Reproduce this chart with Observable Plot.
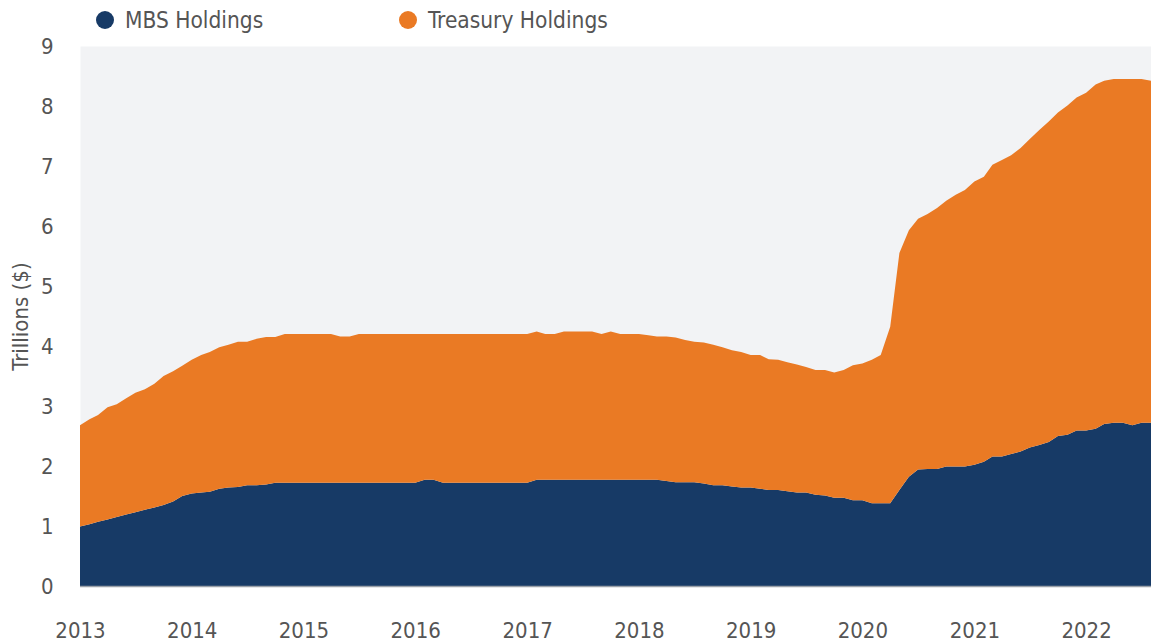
<!DOCTYPE html>
<html>
<head>
<meta charset="utf-8">
<script src="https://cdn.jsdelivr.net/npm/d3@7"></script>
<script src="https://cdn.jsdelivr.net/npm/@observablehq/plot@0.6"></script>
<style>
  body { margin: 0; background: #fff; font-family: "Liberation Sans Narrow", "DejaVu Sans Condensed", "Liberation Sans", sans-serif; }
  #legend { position: relative; height: 36px; width: 1151px; }
  .item { position: absolute; top: 0; height: 40px; display: flex; align-items: center; font-size: 22.5px; color: #555; white-space: nowrap; }
  .dot { width: 18px; height: 18px; border-radius: 50%; margin-right: 11px; }
  #chart svg { display: block; }
</style>
</head>
<body>
<div id="legend"></div>
<div id="chart"></div>
<script>
// Series names and colours
const seriesNames = ["MBS Holdings", "Treasury Holdings"];
const seriesColors = ["#173a66", "#ea7a24"];

// Monthly observations, Jan 2013 – Aug 2022 (trillions of dollars)
const months = d3.utcMonth.range(new Date(Date.UTC(2013, 0, 1)), new Date(Date.UTC(2022, 8, 1)));

const mbs = [
  0.99,1.03,1.07,1.11,1.15,1.19,1.23,1.27,1.31,1.35,
  1.41,1.50,1.54,1.56,1.57,1.62,1.64,1.65,1.68,1.68,
  1.69,1.72,1.72,1.72,1.72,1.72,1.72,1.72,1.72,1.72,
  1.72,1.72,1.72,1.72,1.72,1.72,1.72,1.77,1.77,1.72,
  1.72,1.72,1.72,1.72,1.72,1.72,1.72,1.72,1.72,1.77,
  1.77,1.77,1.77,1.77,1.77,1.77,1.77,1.77,1.77,1.77,
  1.77,1.77,1.77,1.75,1.73,1.73,1.73,1.71,1.68,1.68,
  1.66,1.64,1.64,1.62,1.60,1.60,1.58,1.56,1.56,1.52,
  1.51,1.47,1.47,1.43,1.43,1.38,1.38,1.38,1.60,1.82,
  1.94,1.95,1.95,1.99,1.99,1.99,2.02,2.07,2.16,2.16,
  2.20,2.24,2.31,2.35,2.40,2.50,2.52,2.59,2.59,2.62,
  2.70,2.72,2.72,2.68,2.72,2.72
];

const treasury = [
  1.69,1.75,1.78,1.87,1.88,1.94,1.99,2.01,2.06,2.15,
  2.17,2.17,2.23,2.29,2.33,2.36,2.38,2.42,2.39,2.44,
  2.46,2.43,2.48,2.48,2.48,2.48,2.48,2.48,2.44,2.44,
  2.48,2.48,2.48,2.48,2.48,2.48,2.48,2.43,2.43,2.48,
  2.48,2.48,2.48,2.48,2.48,2.48,2.48,2.48,2.48,2.47,
  2.43,2.43,2.47,2.47,2.47,2.47,2.43,2.47,2.43,2.43,
  2.43,2.41,2.39,2.41,2.41,2.37,2.34,2.35,2.34,2.30,
  2.27,2.26,2.21,2.23,2.18,2.17,2.15,2.13,2.09,2.08,
  2.09,2.09,2.13,2.25,2.28,2.39,2.47,2.94,3.95,4.11,
  4.18,4.25,4.35,4.43,4.53,4.61,4.72,4.75,4.86,4.94,
  4.98,5.06,5.14,5.25,5.34,5.39,5.49,5.55,5.63,5.74,
  5.72,5.73,5.73,5.77,5.73,5.70
];

// Axis ticks
const yearTicks = [2013,2014,2015,2016,2017,2018,2019,2020,2021,2022];
const yTicks = [0,1,2,3,4,5,6,7,8,9];
const yLabel = "Trillions ($)";

// Long-format table for the stacked area
const rows = [];
months.forEach((d, i) => {
  rows.push({date: d, series: seriesNames[0], value: mbs[i]});
  rows.push({date: d, series: seriesNames[1], value: treasury[i]});
});

// Legend
const legend = document.getElementById("legend");
const legendLeft = [96, 399];
seriesNames.forEach((name, i) => {
  const item = document.createElement("div");
  item.className = "item";
  item.style.left = legendLeft[i] + "px";
  const dot = document.createElement("span");
  dot.className = "dot";
  dot.style.background = seriesColors[i];
  const label = document.createElement("span");
  label.textContent = name;
  item.appendChild(dot);
  item.appendChild(label);
  legend.appendChild(item);
});

const chart = Plot.plot({
  width: 1151,
  height: 607,
  marginTop: 10,
  marginBottom: 57,
  marginLeft: 80,
  marginRight: 0,
  style: {
    fontFamily: '"Liberation Sans Narrow", "DejaVu Sans Condensed", "Liberation Sans", sans-serif',
    fontSize: "22px",
    color: "#555",
    background: "transparent",
    overflow: "visible"
  },
  x: {
    type: "utc",
    domain: [months[0], months[months.length - 1]]
  },
  y: {
    domain: [0, 9]
  },
  color: { domain: seriesNames, range: seriesColors },
  marks: [
    Plot.frame({ fill: "#f2f3f5", stroke: "none" }),
    Plot.areaY(rows, { x: "date", y: "value", z: "series", fill: "series", order: seriesNames }),
    Plot.ruleY([0], { stroke: "#9aa0a8", strokeWidth: 1.5 }),
    Plot.axisX(yearTicks.map(y => new Date(Date.UTC(y, 0, 1))), {
      tickSize: 0, tickPadding: 36, tickFormat: d3.utcFormat("%Y"), label: null, fontSize: 22
    }),
    Plot.axisY(yTicks, {
      tickSize: 0, tickPadding: 27, tickFormat: d3.format("d"), label: yLabel, labelAnchor: "center", labelOffset: 68, labelArrow: "none", fontSize: 22
    })
  ]
});
document.getElementById("chart").appendChild(chart);
</script>
</body>
</html>
